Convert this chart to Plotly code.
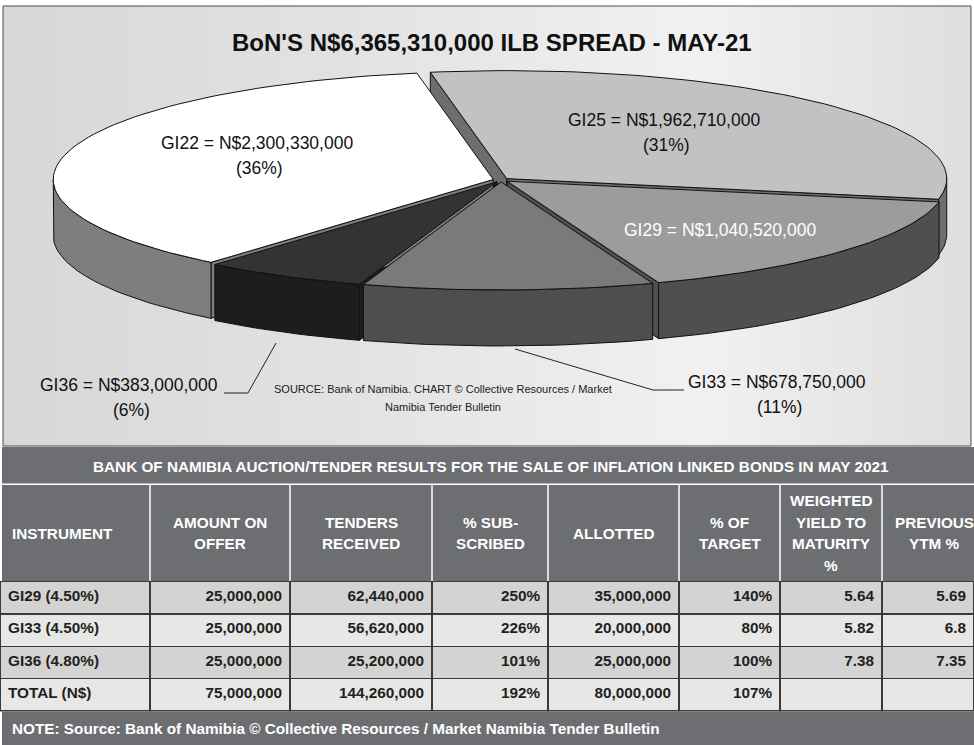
import numpy as np
import plotly.graph_objects as go

W, H = 974, 745

# ---------------- data ----------------
pie_labels = ["GI25", "GI29", "GI33", "GI36", "GI22"]
pie_values = [1962710000, 1040520000, 678750000, 383000000, 2300330000]
pie_top_colors = ["#c2c2c2", "#9c9c9c", "#7a7a7a", "#333333", "#ffffff"]
pie_side_colors = ["#6e6e6e", "#4f4f4f", "#4e4e4e", "#1d1d1d", "#7e7e7e"]
pie_label_colors = ["#111111", "#ffffff", "#111111", "#111111", "#111111"]
pie_show_pct = [True, False, True, True, True]

source_line1 = "SOURCE: Bank of Namibia. CHART © Collective Resources / Market"
source_line2 = "Namibia Tender Bulletin"

table_title = "BANK OF NAMIBIA AUCTION/TENDER RESULTS FOR THE SALE OF INFLATION LINKED BONDS IN MAY 2021"
col_headers = ["INSTRUMENT", "AMOUNT ON<br>OFFER", "TENDERS<br>RECEIVED", "% SUB-<br>SCRIBED",
               "ALLOTTED", "% OF<br>TARGET", "WEIGHTED<br>YIELD TO<br>MATURITY<br>%", "PREVIOUS<br>YTM %"]
instruments = ["GI29 (4.50%)", "GI33 (4.50%)", "GI36 (4.80%)", "TOTAL (N$)"]
amount_on_offer = ["25,000,000", "25,000,000", "25,000,000", "75,000,000"]
tenders_received = ["62,440,000", "56,620,000", "25,200,000", "144,260,000"]
pct_subscribed = ["250%", "226%", "101%", "192%"]
allotted = ["35,000,000", "20,000,000", "25,000,000", "80,000,000"]
pct_of_target = ["140%", "80%", "100%", "107%"]
weighted_ytm = ["5.64", "5.82", "7.38", ""]
previous_ytm = ["5.69", "6.8", "7.35", ""]
note_text = "NOTE: Source: Bank of Namibia © Collective Resources / Market Namibia Tender Bulletin"

# ---------------- layout constants ----------------
cx, cy, ra, rb, depth, explode = 501.0, 180.0, 440.0, 108.0, 56.0, 8.0
start_angle = -10.0
label_pos = {"GI25": (664, 120), "GI29": (720, 230), "GI33": (777, 382),
             "GI36": (129, 385), "GI22": (257, 143)}
col_widths = [150, 140, 142, 116, 131, 101, 102, 92]
sans = "Liberation Sans, Arial, sans-serif"
tfont = 15.3
band_gray = "#6d6e71"

fig = go.Figure()

# chart area background with gradient
fig.add_trace(go.Scatter(
    x=[3, 971, 971, 3, 3], y=[6, 6, 446, 446, 6], mode="lines", fill="toself",
    line=dict(color="#4a4a4a", width=1),
    fillgradient=dict(type="horizontal",
                      colorscale=[[0, "#d7d7d7"], [0.35, "#e2e2e2"], [0.72, "#f1f1f1"], [1, "#dedede"]]),
    hoverinfo="skip", showlegend=False))

# ---------------- 3D pie geometry ----------------
total = float(sum(pie_values))
bounds = [start_angle]
for v in pie_values:
    bounds.append(bounds[-1] + 360.0 * v / total)


def pt(t_deg, ox, oy, dz=0.0):
    t = np.radians(t_deg)
    return cx + ox + ra * np.sin(t), cy + oy - rb * np.cos(t) + dz


def arc(t1, t2, ox, oy, dz=0.0):
    n = max(3, int(abs(t2 - t1) / 1.5) + 2)
    ts = np.linspace(t1, t2, n)
    xs, ys = pt(ts, ox, oy, dz)
    return list(xs), list(ys)


polys_radial, polys_outer, polys_top = [], [], []
for i, lab in enumerate(pie_labels):
    t1, t2 = bounds[i], bounds[i + 1]
    tm = np.radians((t1 + t2) / 2)
    ox = explode * np.sin(tm)
    oy = -explode * (rb / ra) * np.cos(tm)
    ax_, ay_ = cx + ox, cy + oy
    for t, visible in ((t1, np.sin(np.radians(t1)) < -1e-6), (t2, np.sin(np.radians(t2)) > 1e-6)):
        if visible:
            rx, ry = pt(t, ox, oy)
            polys_radial.append(([ax_, rx, rx, ax_, ax_],
                                 [ay_, ry, ry + depth, ay_ + depth, ay_], pie_side_colors[i]))
    s1, s2 = max(t1, 90.0), min(t2, 270.0)
    if s2 > s1:
        xt, yt = arc(s1, s2, ox, oy)
        xb, yb = arc(s2, s1, ox, oy, depth)
        polys_outer.append((xt + xb + [xt[0]], yt + yb + [yt[0]], pie_side_colors[i]))
    xt, yt = arc(t1, t2, ox, oy)
    polys_top.append(([ax_] + xt + [ax_], [ay_] + yt + [ay_], pie_top_colors[i]))

for xs, ys, col in polys_radial + polys_outer + polys_top:
    fig.add_trace(go.Scatter(x=xs, y=ys, mode="lines", fill="toself", fillcolor=col,
                             line=dict(color="#111111", width=1), hoverinfo="skip",
                             showlegend=False))

# ---------------- annotations ----------------
ann = []
title_text = "BoN'S N${:,} ILB SPREAD - MAY-21".format(int(total))
ann.append(dict(x=492, y=42, text="<b>" + title_text + "</b>", showarrow=False,
                font=dict(family=sans, size=24, color="#111111"), xref="x", yref="y"))

for i, lab in enumerate(pie_labels):
    x, y = label_pos[lab]
    pct = int(round(100 * pie_values[i] / total))
    txt = "{} = N${:,}".format(lab, pie_values[i])
    ann.append(dict(x=x, y=y, text=txt, showarrow=False, xref="x", yref="y",
                    font=dict(family=sans, size=17.5, color=pie_label_colors[i])))
    if pie_show_pct[i]:
        ann.append(dict(x=x + 2, y=y + 25, text="({}%)".format(pct), showarrow=False, xref="x", yref="y",
                        font=dict(family=sans, size=17.5, color=pie_label_colors[i])))

ann.append(dict(x=443, y=389, text=source_line1, showarrow=False, xref="x", yref="y",
                font=dict(family=sans, size=11, color="#222222")))
ann.append(dict(x=443, y=407, text=source_line2, showarrow=False, xref="x", yref="y",
                font=dict(family=sans, size=11, color="#222222")))

ann.append(dict(x=491, y=466, text="<b>" + table_title + "</b>", showarrow=False, xref="x", yref="y",
                font=dict(family=sans, size=tfont, color="#ffffff")))
ann.append(dict(x=10, y=728, text="<b>" + note_text + "</b>", showarrow=False, xref="x", yref="y",
                xanchor="left", font=dict(family=sans, size=tfont, color="#ffffff")))

# header labels (each line placed separately for the reference's line spacing)
edges = np.concatenate([[0], np.cumsum(col_widths)])
line_gap = 21.7
for j, h in enumerate(col_headers):
    lines = h.split("<br>")
    n = len(lines)
    for k, ln in enumerate(lines):
        yy = 533 + (k - (n - 1) / 2) * line_gap
        if j == 0:
            ann.append(dict(x=10, y=yy, text="<b>" + ln + "</b>", showarrow=False, xref="x", yref="y",
                            xanchor="left", font=dict(family=sans, size=tfont, color="#ffffff")))
        else:
            xc = (edges[j] + edges[j + 1]) / 2 + (6 if j == 7 else 0)
            ann.append(dict(x=xc, y=yy, text="<b>" + ln + "</b>", showarrow=False, xref="x", yref="y",
                            xanchor="center", font=dict(family=sans, size=tfont, color="#ffffff")))

# ---------------- shapes ----------------
shapes = []
shapes.append(dict(type="rect", xref="x", yref="y", x0=2, x1=974, y0=447, y1=483.5,
                   fillcolor=band_gray, line=dict(width=0), layer="below"))
shapes.append(dict(type="rect", xref="x", yref="y", x0=2, x1=974, y0=485, y1=581.5,
                   fillcolor=band_gray, line=dict(width=0), layer="below"))
for e in edges[1:-1]:
    shapes.append(dict(type="line", xref="x", yref="y", x0=e, x1=e, y0=485, y1=581,
                       line=dict(color="#ffffff", width=1.5), layer="below"))
shapes.append(dict(type="rect", xref="x", yref="y", x0=2, x1=974, y0=711.5, y1=745,
                   fillcolor=band_gray, line=dict(width=0), layer="above"))
shapes.append(dict(type="path", xref="x", yref="y", path="M 276 343 L 248 393 L 224 393",
                   line=dict(color="#222222", width=1)))
shapes.append(dict(type="path", xref="x", yref="y", path="M 515 349 L 653 390 L 684 390",
                   line=dict(color="#222222", width=1)))

# ---------------- table ----------------
row_fill = ["#d3d3d4", "#e7e7e8", "#d3d3d4", "#e7e7e8"]
columns = [instruments, amount_on_offer, tenders_received, pct_subscribed,
           allotted, pct_of_target, weighted_ytm, previous_ytm]
aligns = ["left"] + ["right"] * 7
table_top = 581.5
row_h = 32.4
table_bottom = table_top + 4 * row_h + 1
cell_font = dict(family=sans, size=tfont, color="#231f20", weight="bold")
fig.add_trace(go.Table(
    domain=dict(x=[0, 1], y=[1 - table_bottom / H, 1 - table_top / H]),
    columnwidth=col_widths,
    header=dict(values=[[c[0]] for c in columns], align=aligns, height=row_h,
                fill=dict(color=row_fill[0]), line=dict(color="#3a3a3a", width=1.5),
                font=cell_font),
    cells=dict(values=[c[1:] for c in columns], align=aligns,
               fill=dict(color=[row_fill[1:]] * 8),
               line=dict(color="#3a3a3a", width=1.5),
               height=row_h, font=cell_font),
))

fig.update_layout(
    width=W, height=H, margin=dict(l=0, r=0, t=0, b=0),
    paper_bgcolor="#ffffff", plot_bgcolor="rgba(0,0,0,0)",
    xaxis=dict(range=[0, W], visible=False, fixedrange=True),
    yaxis=dict(range=[H, 0], visible=False, fixedrange=True),
    annotations=ann, shapes=shapes, showlegend=False,
)

fig.write_html("out.html", config={"displayModeBar": False},
               post_script="document.body.style.margin='0';document.body.style.overflow='hidden';")
